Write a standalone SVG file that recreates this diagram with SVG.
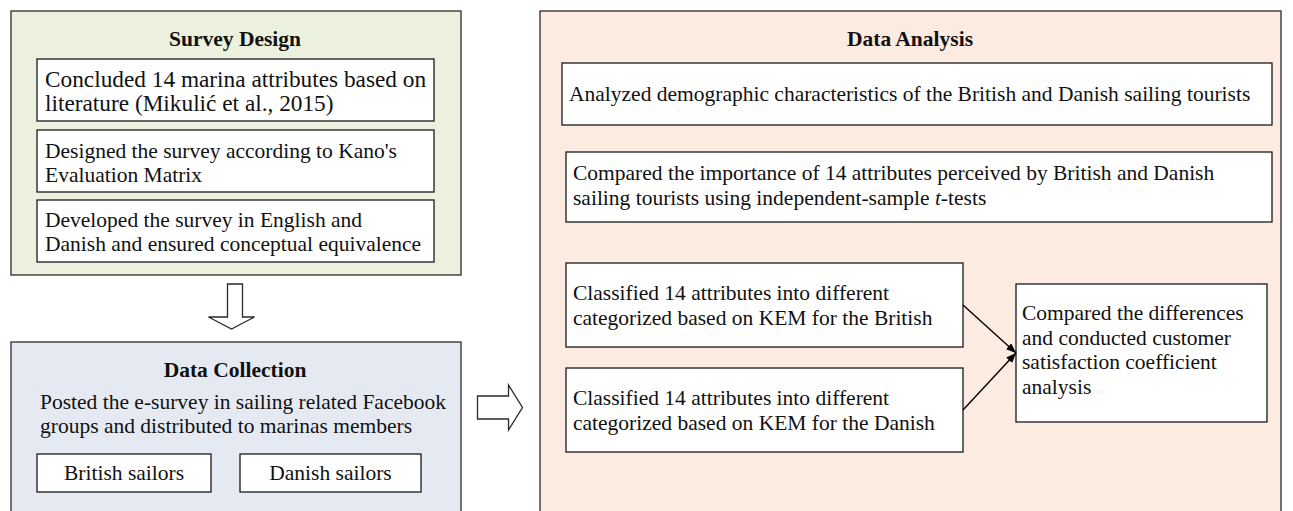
<svg xmlns="http://www.w3.org/2000/svg" width="1293" height="511" viewBox="0 0 1293 511">
<defs>
<style>
.panel{stroke:#3a3a3a;stroke-width:1.4}
.box{fill:#ffffff;stroke:#1a1a1a;stroke-width:1.3}
.t{font-family:"Liberation Serif","Times New Roman",serif;font-size:21.5px;fill:#111}
.big{font-size:23.3px}
.h{font-family:"Liberation Serif","Times New Roman",serif;font-size:21.5px;font-weight:bold;fill:#111;text-anchor:middle}
.c{text-anchor:middle}
.blk{fill:#ffffff;stroke:#2a2a2a;stroke-width:1.3;stroke-linejoin:miter}
.con{stroke:#000;stroke-width:1.4;fill:none}
</style>
<marker id="ah" markerWidth="11" markerHeight="9" refX="10" refY="4" orient="auto" markerUnits="userSpaceOnUse">
<path d="M0,0 L10,4 L0,8 z" fill="#000"/>
</marker>
</defs>
<rect width="1293" height="511" fill="#ffffff"/>

<g id="survey-design">
<rect class="panel" x="11" y="11" width="450" height="264" fill="#ebf1de"/>
<text class="h" x="235" y="46">Survey Design</text>
<rect class="box" x="37" y="59" width="397" height="62"/>
<text class="t big" x="45" y="87">Concluded 14 marina attributes based on</text>
<text class="t big" x="45" y="111">literature (Mikulić et al., 2015)</text>
<rect class="box" x="37" y="130" width="397" height="62"/>
<text class="t" x="45" y="158">Designed the survey according to Kano's</text>
<text class="t" x="45" y="182">Evaluation Matrix</text>
<rect class="box" x="37" y="200" width="397" height="62"/>
<text class="t" x="45" y="227">Developed the survey in English and</text>
<text class="t" x="45" y="251">Danish and ensured conceptual equivalence</text>
</g>

<g id="data-collection">
<rect class="panel" x="11" y="342" width="450" height="185" fill="#e5eaf2"/>
<text class="h" x="235" y="377">Data Collection</text>
<text class="t" x="40" y="409">Posted the e-survey in sailing related Facebook</text>
<text class="t" x="40" y="433">groups and distributed to marinas members</text>
<rect class="box" x="37" y="454" width="174" height="38"/>
<text class="t c" x="124" y="480">British sailors</text>
<rect class="box" x="240" y="454" width="181" height="38"/>
<text class="t c" x="330.5" y="480">Danish sailors</text>
</g>

<g id="data-analysis">
<rect class="panel" x="540" y="11" width="741" height="516" fill="#fcebe0"/>
<text class="h" x="910" y="46">Data Analysis</text>
</g>

<g id="demographics">
<rect class="box" x="562" y="63" width="710" height="62"/>
<text class="t" x="569" y="101">Analyzed demographic characteristics of the British and Danish sailing tourists</text>
</g>

<g id="importance">
<rect class="box" x="566" y="152" width="706" height="70"/>
<text class="t" x="573" y="180">Compared the importance of 14 attributes perceived by British and Danish</text>
<text class="t" x="573" y="205">sailing tourists using independent-sample <tspan font-style="italic">t</tspan>-tests</text>
</g>

<g id="kem-british">
<rect class="box" x="566" y="263" width="397" height="84"/>
<text class="t" x="573" y="300">Classified 14 attributes into different</text>
<text class="t" x="573" y="325">categorized based on KEM for the British</text>
</g>

<g id="kem-danish">
<rect class="box" x="566" y="368" width="397" height="84"/>
<text class="t" x="573" y="405">Classified 14 attributes into different</text>
<text class="t" x="573" y="430">categorized based on KEM for the Danish</text>
</g>

<g id="comparison">
<rect class="box" x="1016" y="284" width="251" height="138"/>
<text class="t" x="1022" y="320">Compared the differences</text>
<text class="t" x="1022" y="344.5">and conducted customer</text>
<text class="t" x="1022" y="369">satisfaction coefficient</text>
<text class="t" x="1022" y="393.5">analysis</text>
</g>

<g id="connectors">
<path class="blk" d="M227.5,284 L242.5,284 L242.5,317 L254.5,317 L231.5,329 L208.5,317 L227.5,317 Z"/>
<path class="blk" d="M477.5,396 L508.5,396 L508.5,385 L522.5,407.5 L508.5,430 L508.5,419 L477.5,419 Z"/>
<line class="con" x1="963" y1="305" x2="1016" y2="353" marker-end="url(#ah)"/>
<line class="con" x1="963" y1="410" x2="1016" y2="353" marker-end="url(#ah)"/>
</g>
</svg>
